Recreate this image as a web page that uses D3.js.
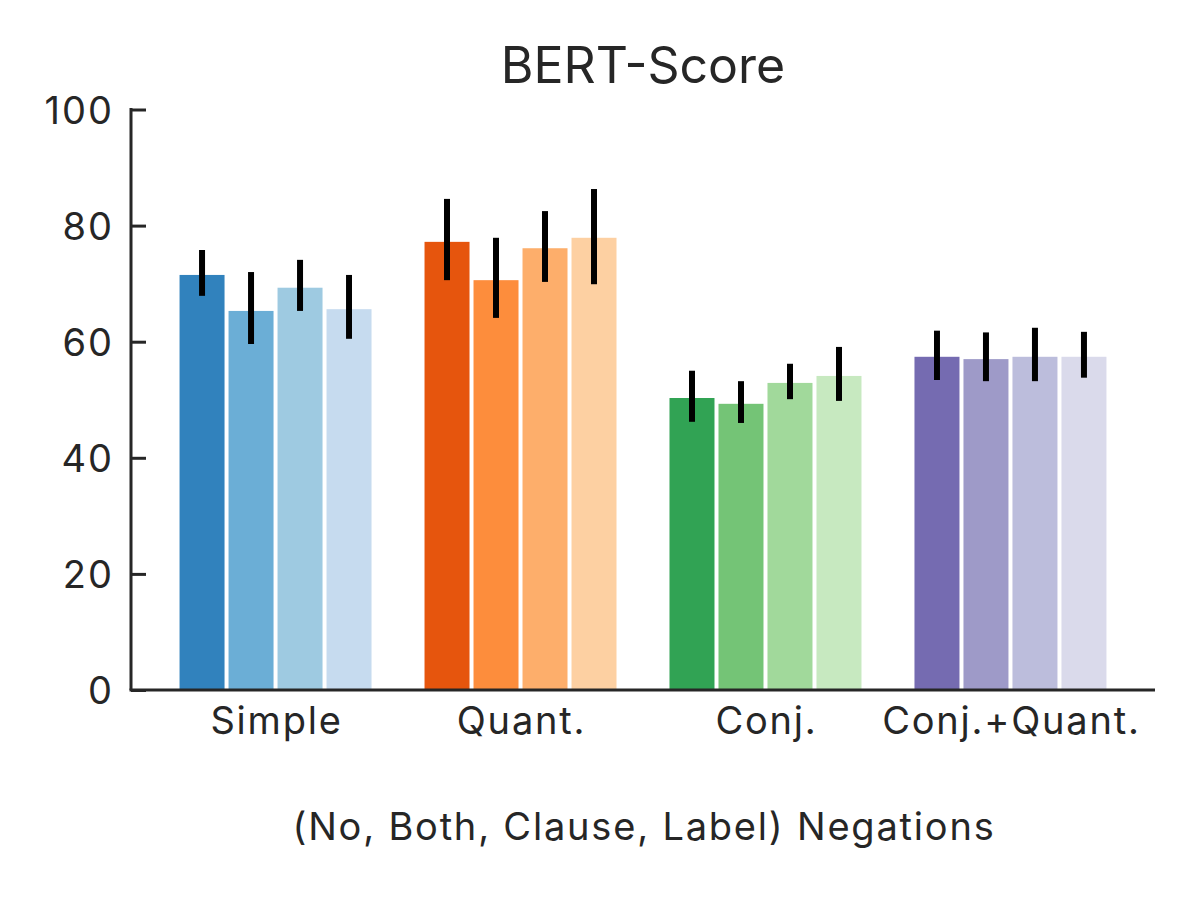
<!DOCTYPE html>
<html>
<head>
<meta charset="utf-8">
<script src="https://cdn.jsdelivr.net/npm/d3@7"></script>
<style>
  body { margin: 0; background: #fff; }
  svg text { font-family: Inter, "DejaVu Sans", sans-serif; fill: #262626; }
</style>
</head>
<body>
<div id="wrap"></div>
<script>
// data
const categories = ["Simple", "Quant.", "Conj.", "Conj.+Quant."];
const series = ["No", "Both", "Clause", "Label"];
const values = [
    [71.5, 65.3, 69.3, 65.6],
    [77.2, 70.6, 76.1, 77.9],
    [50.3, 49.3, 52.9, 54.1],
    [57.4, 57.0, 57.4, 57.4]
];
const errLow = [
    [67.9, 59.6, 65.3, 60.5],
    [70.6, 64.1, 70.3, 69.9],
    [46.2, 46.0, 50.1, 49.8],
    [53.4, 53.2, 53.2, 53.8]
];
const errHigh = [
    [75.8, 72.0, 74.1, 71.5],
    [84.6, 77.9, 82.5, 86.3],
    [55.0, 53.2, 56.2, 59.1],
    [61.9, 61.6, 62.4, 61.7]
];
const yTicks = [0, 20, 40, 60, 80, 100];
const palette = [
    ["#3182bd", "#6baed6", "#9ecae1", "#c6dbef"],
    ["#e6550d", "#fd8d3c", "#fdae6b", "#fdd0a2"],
    ["#31a354", "#74c476", "#a1d99b", "#c7e9c0"],
    ["#756bb1", "#9e9ac8", "#bcbddc", "#dadaeb"]
];

const width = 1200;
const height = 900;
const plot = { left: 131, right: 1155, top: 109.5, bottom: 690 };
const barW = 0.2;

const x = d3.scaleLinear()
    .domain([-0.59, categories.length - 1 + 0.59])
    .range([plot.left, plot.right]);

const y = d3.scaleLinear()
    .domain([0, 100])
    .range([plot.bottom, plot.top]);

const svg = d3.select("#wrap").append("svg")
    .attr("width", width)
    .attr("height", height);

// flatten bars
const bars = [];
categories.forEach((c, i) => {
    series.forEach((s, j) => {
        bars.push({
            cat: i, ser: j,
            v: values[i][j], lo: errLow[i][j], hi: errHigh[i][j],
            pos: i + (j - (series.length - 1) / 2) * barW
        });
    });
});

svg.append("g")
    .selectAll("rect")
    .data(bars)
    .join("rect")
    .attr("x", d => x(d.pos - barW / 2) + 2)
    .attr("width", d => x(d.pos + barW / 2) - x(d.pos - barW / 2) - 4)
    .attr("y", d => y(d.v))
    .attr("height", d => y(0) - y(d.v))
    .attr("fill", d => palette[d.cat][d.ser]);

svg.append("g")
    .selectAll("line")
    .data(bars)
    .join("line")
    .attr("x1", d => x(d.pos))
    .attr("x2", d => x(d.pos))
    .attr("y1", d => y(d.lo))
    .attr("y2", d => y(d.hi))
    .attr("stroke", "#000")
    .attr("stroke-width", 6);

// y axis, ticks pointing inward
const yAxis = d3.axisLeft(y)
    .tickValues(yTicks)
    .tickSizeInner(-15)
    .tickSizeOuter(0)
    .tickPadding(17);

const gy = svg.append("g")
    .attr("transform", `translate(${plot.left},0)`)
    .call(yAxis);
gy.select(".domain").remove();
gy.selectAll(".tick line").attr("stroke", "#262626").attr("stroke-width", 3);
gy.selectAll(".tick text")
    .attr("dy", "0.36em")
    .style("font-size", "38px")
    .style("letter-spacing", "2px")
    .attr("fill", "#262626");
gy.append("line")
    .attr("y1", y(100) - 1.5).attr("y2", y(0))
    .attr("stroke", "#262626").attr("stroke-width", 3);

// x axis
const gx = svg.append("g")
    .attr("transform", `translate(0,${plot.bottom})`);
gx.append("line")
    .attr("x1", plot.left - 1.5).attr("x2", plot.right)
    .attr("stroke", "#262626").attr("stroke-width", 3);
gx.selectAll("text")
    .data(categories)
    .join("text")
    .attr("x", (d, i) => x(i) + 1)
    .attr("y", 44)
    .attr("text-anchor", "middle")
    .style("font-size", "38px")
    .style("letter-spacing", "1.8px")
    .text(d => d);

svg.append("text")
    .attr("x", (plot.left + plot.right) / 2 + 1)
    .attr("y", 840)
    .attr("text-anchor", "middle")
    .style("font-size", "38px")
    .style("letter-spacing", "1.8px")
    .text("(No, Both, Clause, Label) Negations");

svg.append("text")
    .attr("x", (plot.left + plot.right) / 2)
    .attr("y", 83)
    .attr("text-anchor", "middle")
    .style("font-size", "50px")
    .text("BERT-Score");
</script>
</body>
</html>
